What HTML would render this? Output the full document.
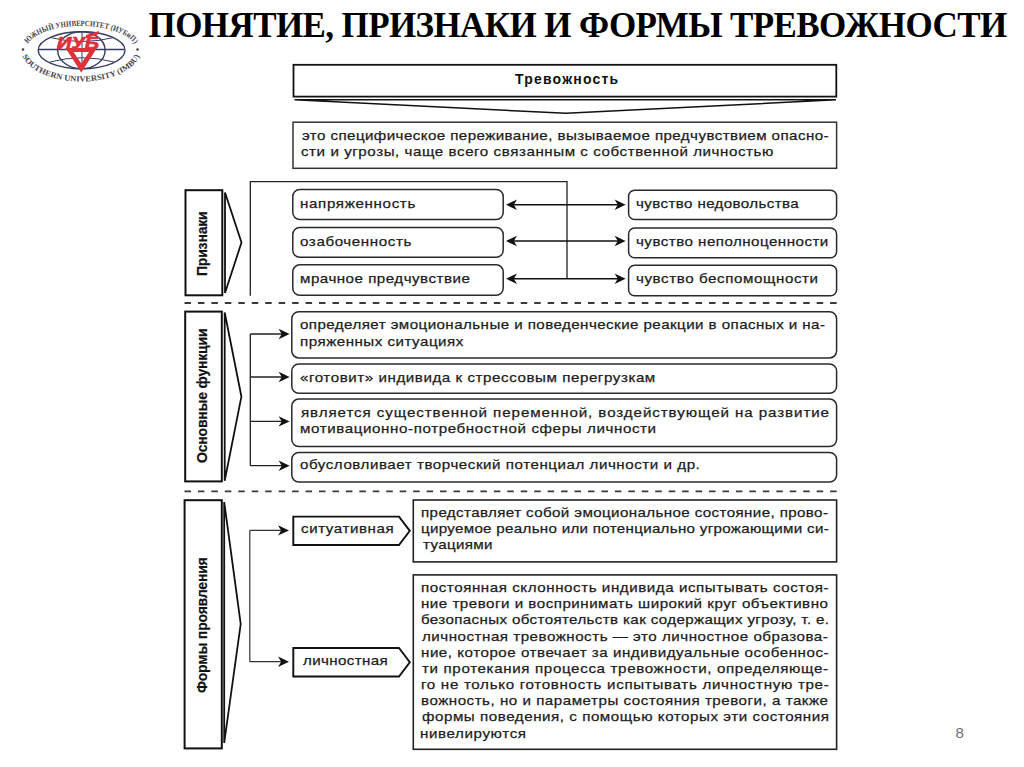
<!DOCTYPE html>
<html><head><meta charset="utf-8">
<style>
html,body{margin:0;padding:0;background:#fff;}
body{width:1024px;height:767px;position:relative;overflow:hidden;font-family:"Liberation Sans",sans-serif;color:#1a1a1a;}
.a{position:absolute;white-space:nowrap;}
#title{left:148.6px;top:5.5px;font-family:"Liberation Serif",serif;font-weight:bold;font-size:35px;line-height:40px;letter-spacing:-0.6px;color:#000;}
.t{position:absolute;font-size:13.5px;line-height:16px;letter-spacing:1px;white-space:nowrap;color:#1c1c1c;-webkit-text-stroke:0.25px #1c1c1c;transform:scaleX(1.12);transform-origin:0 0;}
.j{text-align:justify;text-align-last:justify;}
.v{position:absolute;font-weight:bold;font-size:14px;letter-spacing:-0.2px;white-space:nowrap;color:#111;-webkit-text-stroke:0.2px #111;transform:rotate(-90deg);transform-origin:0 0;line-height:16px;}
#pn{left:955.5px;top:723.5px;font-size:15px;color:#707070;}
</style></head><body>
<svg class="a" style="left:0;top:0" width="1024" height="767" viewBox="0 0 1024 767">
<g fill="none" stroke="#111">
<rect x="293.5" y="64.8" width="542.8" height="31.8" rx="0" stroke-width="1.8" stroke="#111"/>
<polygon points="294.5,99.8 836,99.8 566,113.3" stroke-width="1.5" stroke-linejoin="bevel"/>
<rect x="293" y="122.2" width="543.6" height="46.1" rx="0" stroke-width="1.5" stroke="#333"/>
<rect x="185.5" y="190.2" width="36.8" height="105.1" rx="0" stroke-width="2" stroke="#111"/>
<polygon points="225,192.5 241.5,242.5 225,293" stroke-width="1.8"/>
<polyline points="250.3,295.8 250.3,181.7 567,181.7 567,278.7" stroke-width="1.3" stroke="#222"/>
<rect x="292.8" y="189.5" width="210.4" height="30.0" rx="7" stroke-width="1.5" stroke="#2a2a2a"/>
<rect x="292.8" y="227.5" width="210.4" height="29.8" rx="7" stroke-width="1.5" stroke="#2a2a2a"/>
<rect x="292.8" y="264.8" width="210.4" height="30.5" rx="7" stroke-width="1.5" stroke="#2a2a2a"/>
<rect x="628.6" y="190.2" width="208.0" height="29.3" rx="6" stroke-width="1.5" stroke="#2a2a2a"/>
<rect x="628.6" y="228" width="208.0" height="29.7" rx="6" stroke-width="1.5" stroke="#2a2a2a"/>
<rect x="628.6" y="265.3" width="208.0" height="30.5" rx="6" stroke-width="1.5" stroke="#2a2a2a"/>
<line x1="512" y1="204.7" x2="620" y2="204.7" stroke-width="1.5"/>
<line x1="512" y1="241" x2="620" y2="241" stroke-width="1.5"/>
<line x1="512" y1="278.7" x2="620" y2="278.7" stroke-width="1.5"/>
<line x1="184.5" y1="303" x2="838" y2="303" stroke-width="1.8" stroke-dasharray="6.5,6.95" stroke="#3a3a3a"/>
<rect x="185.2" y="311.6" width="36.6" height="169.8" rx="0" stroke-width="2" stroke="#111"/>
<polygon points="224.7,312.5 241.4,396.6 224.7,480.8" stroke-width="1.8"/>
<line x1="250.3" y1="334" x2="250.3" y2="465.7" stroke-width="1.3" stroke="#222"/>
<line x1="250.3" y1="334" x2="284" y2="334" stroke-width="1.3" stroke="#222"/>
<line x1="250.3" y1="377" x2="284" y2="377" stroke-width="1.3" stroke="#222"/>
<line x1="250.3" y1="421.4" x2="284" y2="421.4" stroke-width="1.3" stroke="#222"/>
<line x1="250.3" y1="465.7" x2="284" y2="465.7" stroke-width="1.3" stroke="#222"/>
<rect x="291.8" y="311.7" width="544.8" height="46.2" rx="7" stroke-width="1.5" stroke="#2a2a2a"/>
<rect x="291.8" y="363.9" width="544.8" height="29.4" rx="7" stroke-width="1.5" stroke="#2a2a2a"/>
<rect x="291.8" y="399.1" width="544.8" height="47.4" rx="7" stroke-width="1.5" stroke="#2a2a2a"/>
<rect x="291.8" y="452.5" width="544.8" height="29.5" rx="7" stroke-width="1.5" stroke="#2a2a2a"/>
<line x1="184.5" y1="491.3" x2="838" y2="491.3" stroke-width="1.8" stroke-dasharray="6.5,6.95" stroke="#3a3a3a"/>
<rect x="184.6" y="500.2" width="37.2" height="248.2" rx="0" stroke-width="2" stroke="#111"/>
<polygon points="224.2,502 240.7,624 224.2,743" stroke-width="1.8"/>
<line x1="249.8" y1="530.4" x2="249.8" y2="661.7" stroke-width="1.2" stroke="#333"/>
<line x1="249.8" y1="530.4" x2="283" y2="530.4" stroke-width="1.2" stroke="#333"/>
<line x1="249.8" y1="661.7" x2="283" y2="661.7" stroke-width="1.2" stroke="#333"/>
<polygon points="293.3,516.6 399,516.6 409.8,530.80 399,545 293.3,545" stroke-width="1.9"/>
<polygon points="293.3,648 399,648 409.8,662.25 399,676.5 293.3,676.5" stroke-width="1.9"/>
<rect x="413.3" y="500" width="423.3" height="61.9" rx="0" stroke-width="1.6" stroke="#222"/>
<rect x="413.3" y="574.9" width="423.3" height="174.4" rx="0" stroke-width="1.6" stroke="#222"/>
</g>
<g fill="#111" stroke="none">
<path d="M506.0,204.7 L517.0,199.5 L513.8,204.7 L517.0,209.9Z"/>
<path d="M625.6,204.7 L614.6,199.5 L617.8,204.7 L614.6,209.9Z"/>
<path d="M506.0,241.0 L517.0,235.8 L513.8,241.0 L517.0,246.2Z"/>
<path d="M625.6,241.0 L614.6,235.8 L617.8,241.0 L614.6,246.2Z"/>
<path d="M506.0,278.7 L517.0,273.5 L513.8,278.7 L517.0,283.9Z"/>
<path d="M625.6,278.7 L614.6,273.5 L617.8,278.7 L614.6,283.9Z"/>
<path d="M289.6,334.0 L278.6,328.8 L281.8,334.0 L278.6,339.2Z"/>
<path d="M289.6,377.0 L278.6,371.8 L281.8,377.0 L278.6,382.2Z"/>
<path d="M289.6,421.4 L278.6,416.2 L281.8,421.4 L278.6,426.6Z"/>
<path d="M289.6,465.7 L278.6,460.5 L281.8,465.7 L278.6,470.9Z"/>
<path d="M289.0,530.4 L278.0,525.2 L281.2,530.4 L278.0,535.6Z"/>
<path d="M289.0,661.7 L278.0,656.5 L281.2,661.7 L278.0,666.9Z"/>
</g>
</svg>

<svg class="a" style="left:0;top:0" width="160" height="100" viewBox="0 0 160 100">
 <defs>
  <path id="ptop" d="M26,50 A55,24 0 0 1 136,50"/>
  <path id="pbot" d="M21,49 A60,32.5 0 0 0 141,49"/>
 </defs>
 <g fill="none" stroke="#353d62" stroke-width="1.4">
  <ellipse cx="81.6" cy="50.2" rx="43.4" ry="18.5"/>
  <ellipse cx="81.4" cy="50.2" rx="23.7" ry="18.5"/>
  <line x1="39" y1="49.5" x2="124" y2="49.5"/>
  <line x1="82" y1="31.5" x2="82" y2="68" stroke-width="1"/>
  <path d="M50,37.5 Q82,45.5 114,37.5" stroke-width="1"/>
  <path d="M50,62 Q82,53.5 114,62" stroke-width="1"/>
 </g>
 <g fill="#45454f" font-family="Liberation Serif" font-weight="bold" font-size="8px">
  <text><textPath href="#ptop" startOffset="50%" text-anchor="middle" textLength="116" lengthAdjust="spacingAndGlyphs">ЮЖНЫЙ УНИВЕРСИТЕТ (ИУБиП)</textPath></text>
  <text><textPath href="#pbot" startOffset="50%" text-anchor="middle" textLength="134" lengthAdjust="spacingAndGlyphs">SOUTHERN UNIVERSITY (IMBU)</textPath></text>
 </g>
 <circle cx="23" cy="49.5" r="1.3" fill="#444"/>
 <circle cx="137.5" cy="49.5" r="1.3" fill="#444"/>
 <g fill="#e0303a">
  <path fill-rule="evenodd" d="M65.5,48 L97,48 L81.3,72.5 Z M73.5,52 L89,52 L81.3,63.5 Z"/>
  <text x="57" y="48.5" font-family="Liberation Sans" font-weight="bold" font-style="italic" font-size="16px" textLength="42" lengthAdjust="spacingAndGlyphs" stroke="#e0303a" stroke-width="0.7">ИУБ</text>
  <polygon points="86,35 99,31 98,34.5 86,38"/>
 </g>
</svg>

<div id="title" class="a">ПОНЯТИЕ, ПРИЗНАКИ И ФОРМЫ ТРЕВОЖНОСТИ</div>

<div class="a" style="left:515px;top:71px;font-weight:bold;font-size:14px;letter-spacing:1.2px;color:#111;">Тревожность</div>


<div class="v" style="left:193.5px;top:275.5px;">Признаки</div>

<div class="v" style="left:193.5px;top:463px;">Основные функции</div>

<div class="v" style="left:193.5px;top:692.5px;">Формы проявления</div>



<!--TXT-->
<div class="t" style="left:301.80px;top:128.00px;letter-spacing:0.380px">это специфическое переживание, вызываемое предчувствием опасно-</div>
<div class="t" style="left:300.68px;top:144.00px;letter-spacing:0.504px">сти и угрозы, чаще всего связанным с собственной личностью</div>
<div class="t" style="left:300.13px;top:196.20px;letter-spacing:0.593px">напряженность</div>
<div class="t" style="left:300.13px;top:233.50px;letter-spacing:0.544px">озабоченность</div>
<div class="t" style="left:300.13px;top:271.00px;letter-spacing:0.447px">мрачное предчувствие</div>
<div class="t" style="left:636.08px;top:196.20px;letter-spacing:0.350px">чувство недовольства</div>
<div class="t" style="left:636.08px;top:234.00px;letter-spacing:0.425px">чувство неполноценности</div>
<div class="t" style="left:636.08px;top:271.20px;letter-spacing:0.527px">чувство беспомощности</div>
<div class="t" style="left:299.88px;top:317.20px;letter-spacing:0.393px">определяет эмоциональные и поведенческие реакции в опасных и на-</div>
<div class="t" style="left:299.88px;top:333.60px;letter-spacing:0.450px">пряженных ситуациях</div>
<div class="t" style="left:299.88px;top:370.00px;letter-spacing:0.504px">«готовит» индивида к стрессовым перегрузкам</div>
<div class="t" style="left:301.00px;top:404.70px;letter-spacing:0.824px">является существенной переменной, воздействующей на развитие</div>
<div class="t" style="left:299.88px;top:420.80px;letter-spacing:0.545px">мотивационно-потребностной сферы личности</div>
<div class="t" style="left:299.88px;top:456.70px;letter-spacing:0.487px">обусловливает творческий потенциал личности и др.</div>
<div class="t" style="left:301.48px;top:521.20px;letter-spacing:0.516px">ситуативная</div>
<div class="t" style="left:302.60px;top:653.00px;letter-spacing:0.333px">личностная</div>
<div class="t" style="left:421.18px;top:504.80px;letter-spacing:0.352px">представляет собой эмоциональное состояние, прово-</div>
<div class="t" style="left:421.18px;top:520.90px;letter-spacing:0.276px">цируемое реально или потенциально угрожающими си-</div>
<div class="t" style="left:422.60px;top:537.00px;letter-spacing:0.321px">туациями</div>
<div class="t" style="left:421.18px;top:580.00px;letter-spacing:0.505px">постоянная склонность индивида испытывать состоя-</div>
<div class="t" style="left:421.18px;top:596.17px;letter-spacing:0.454px">ние тревоги и воспринимать широкий круг объективно</div>
<div class="t" style="left:421.18px;top:612.34px;letter-spacing:0.331px">безопасных обстоятельств как содержащих угрозу, т. е.</div>
<div class="t" style="left:422.30px;top:628.51px;letter-spacing:0.463px">личностная тревожность — это личностное образова-</div>
<div class="t" style="left:421.18px;top:644.68px;letter-spacing:0.474px">ние, которое отвечает за индивидуальные особеннос-</div>
<div class="t" style="left:422.30px;top:660.85px;letter-spacing:0.579px">ти протекания процесса тревожности, определяюще-</div>
<div class="t" style="left:421.18px;top:677.02px;letter-spacing:0.617px">го не только готовность испытывать личностную тре-</div>
<div class="t" style="left:421.18px;top:693.19px;letter-spacing:0.465px">вожность, но и параметры состояния тревоги, а также</div>
<div class="t" style="left:422.30px;top:709.36px;letter-spacing:0.494px">формы поведения, с помощью которых эти состояния</div>
<div class="t" style="left:420.28px;top:725.53px;letter-spacing:0.557px">нивелируются</div>
<!--/TXT-->
<div id="pn" class="a">8</div>
</body></html>
